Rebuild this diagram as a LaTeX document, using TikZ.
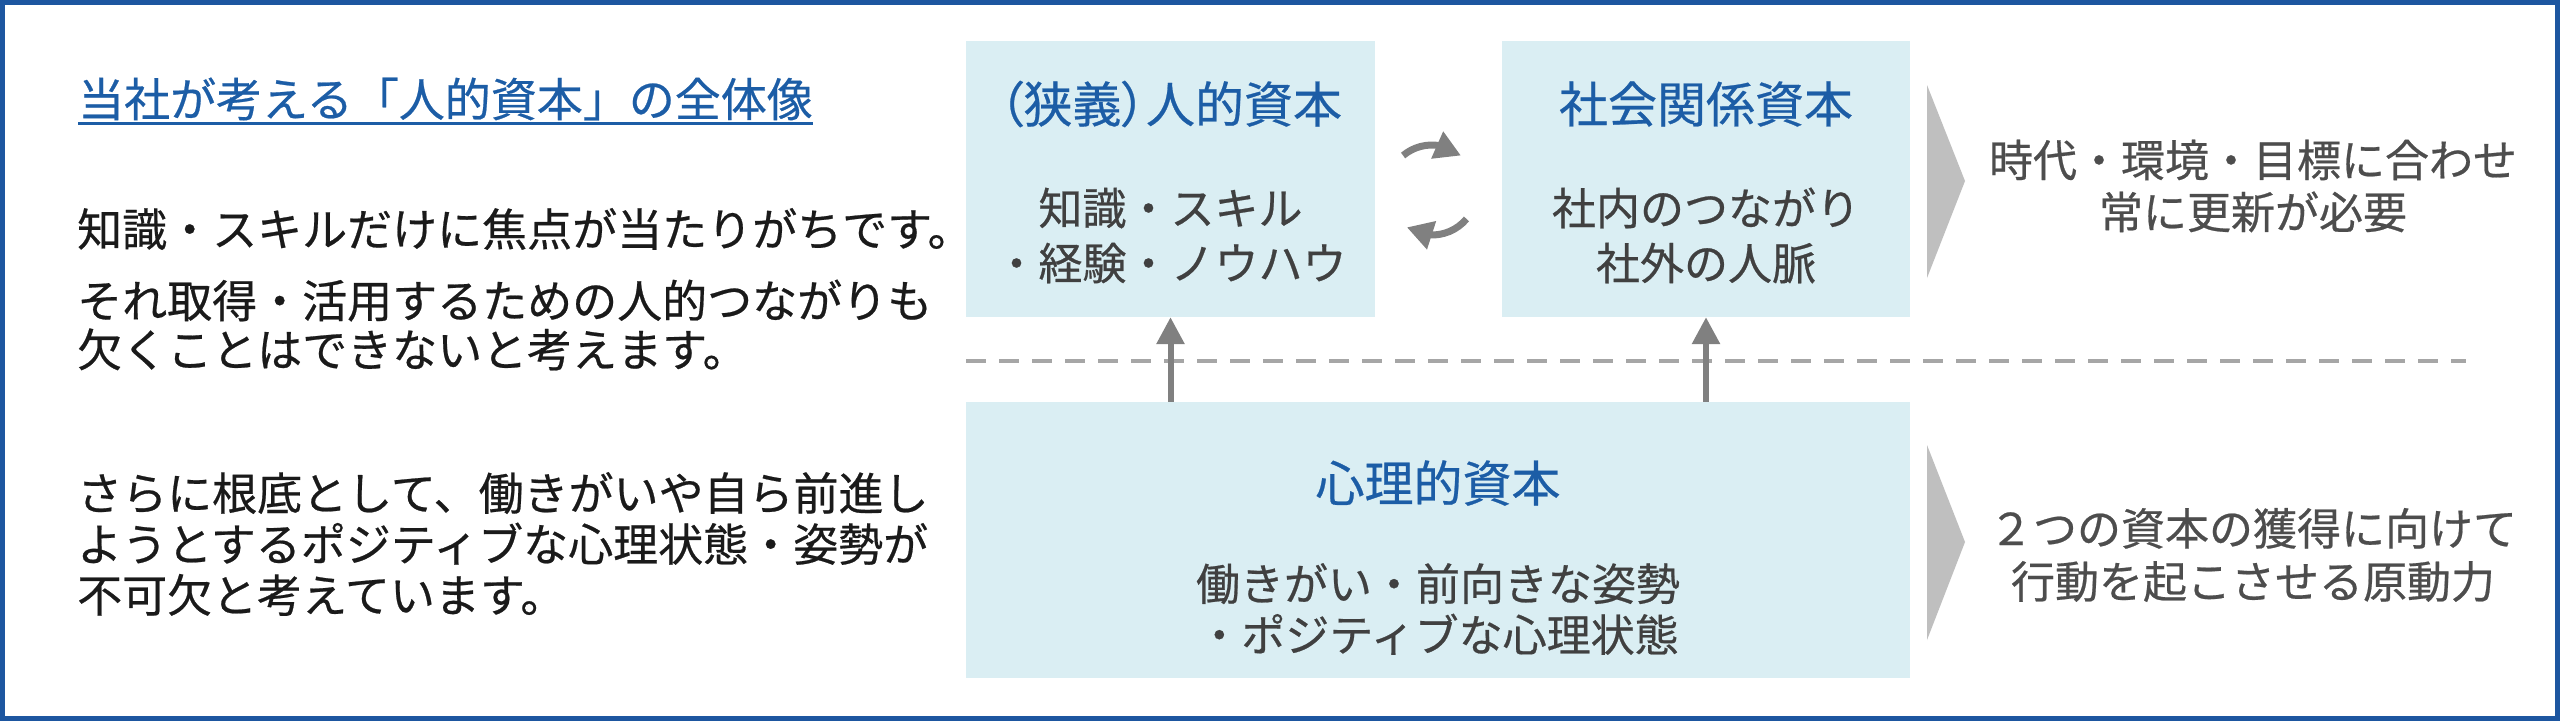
\documentclass[tikz,border=0pt]{standalone}
\usepackage{fontspec}
\setmainfont[FakeBold=0.5]{Noto Sans CJK JP}
\newfontfamily\jpp[RawFeature=+palt,FakeBold=0.5]{Noto Sans CJK JP}
\usetikzlibrary{arrows.meta,bending}
\definecolor{framecol}{HTML}{1D56A0}
\definecolor{titleblue}{HTML}{1C5DA6}
\definecolor{boxfill}{HTML}{DAEEF3}
\definecolor{bodytxt}{HTML}{1A1A1A}
\definecolor{boxtxt}{HTML}{404040}
\definecolor{sidetxt}{HTML}{4D4D4D}
\definecolor{arrgray}{HTML}{808080}
\definecolor{dashgray}{HTML}{A6A6A6}
\definecolor{chevgray}{HTML}{BFBFBF}
\tikzset{
  frame/.style={draw=framecol, line width=5pt},
  capbox/.style={fill=boxfill, draw=none, inner sep=0pt, minimum height=276pt},
  headtxt/.style={inner sep=0pt, anchor=west, text=titleblue, font=\fontsize{46pt}{52pt}\selectfont},
  lefttxt/.style={inner sep=0pt, anchor=west, align=left, text=bodytxt},
  btitle/.style={inner sep=0pt, text=titleblue, font=\jpp\fontsize{49pt}{55pt}\selectfont},
  bbody/.style={inner sep=0pt, align=center, text=boxtxt},
  sidetext/.style={inner sep=0pt, align=center, text=sidetxt},
  uparr/.style={draw=arrgray, line width=6pt, -{Triangle[length=27pt,width=27pt]}},
  rotarr/.style={draw=arrgray, line width=7pt, -{Triangle[length=26pt,width=28pt]}},
  dashln/.style={draw=dashgray, line width=4pt, dash pattern=on 20pt off 13pt},
  chev/.style={fill=chevgray, draw=none}
}
\begin{document}
\begin{tikzpicture}[x=1pt,y=-1pt]
\useasboundingbox (0,0) rectangle (2560,721);
\fill[white] (0,0) rectangle (2560,721);
\draw[frame] (2.5,2.5) rectangle (2557.5,718.5);

% left column
\node[headtxt] (head) at (78,99) {当社が考える「人的資本」の全体像};
\draw[draw=titleblue, line width=2.5pt] ([yshift=-3pt]head.south west) -- ([yshift=-3pt]head.south east);
\node[lefttxt, font=\fontsize{45pt}{49pt}\selectfont] (p1a) at (77,229) {知識・スキルだけに焦点が当たりがちです。};
\node[lefttxt, font=\fontsize{45pt}{49pt}\selectfont] (p1b) at (77,325) {それ取得・活用するための人的つながりも\\欠くことはできないと考えます。};
\node[lefttxt, font=\fontsize{45pt}{51pt}\selectfont] (p2) at (77,544) {さらに根底として、働きがいや自ら前進し\\ようとするポジティブな心理状態・姿勢が\\不可欠と考えています。};

% boxes
\node[capbox, minimum width=409pt] (b1) at (1170.5,179) {};
\node[capbox, minimum width=408pt] (b2) at (1706,179) {};
\node[capbox, minimum width=944pt] (b3) at (1438,540) {};

\node[btitle] (b1t) at (1170.5,104) {（狭義）人的資本};
\node[bbody, font=\fontsize{44pt}{55pt}\selectfont] (b1b) at (1170.5,235.5) {知識・スキル\\・経験・ノウハウ};
\node[btitle] (b2t) at (1706,104) {社会関係資本};
\node[bbody, font=\fontsize{44pt}{55pt}\selectfont] (b2b) at (1706,235.5) {社内のつながり\\社外の人脈};
\node[btitle] (b3t) at (1438,483) {心理的資本};
\node[bbody, font=\fontsize{44pt}{51pt}\selectfont] (b3b) at (1438,609) {働きがい・前向きな姿勢\\・ポジティブな心理状態};

% rotation arrows between the two upper boxes
\coordinate (rc) at (1432,190);
\draw[rotarr] ([shift={(-130:45)}]rc) arc[start angle=-130, end angle=-50, radius=45];
\draw[rotarr] ([shift={(40:45)}]rc) arc[start angle=40, end angle=124, radius=45];

% dashed separator
\coordinate (dl) at (966,361);
\coordinate (dr) at (2466,361);
\draw[dashln] (dl) -- (dr);

% upward arrows
\draw[uparr] (b1.south |- b3.north) -- (b1.south);
\draw[uparr] (b2.south |- b3.north) -- (b2.south);

% chevrons
\fill[chev] (1927,85) -- (1965,181) -- (1927,278) -- cycle;
\fill[chev] (1927,445) -- (1965,542) -- (1927,640) -- cycle;

% right texts
\node[sidetext, font=\fontsize{44pt}{52pt}\selectfont] (r1) at (2253,186) {時代・環境・目標に合わせ\\常に更新が必要};
\node[sidetext, font=\fontsize{44pt}{53pt}\selectfont] (r2) at (2253,555) {２つの資本の獲得に向けて\\行動を起こさせる原動力};
\end{tikzpicture}
\end{document}
